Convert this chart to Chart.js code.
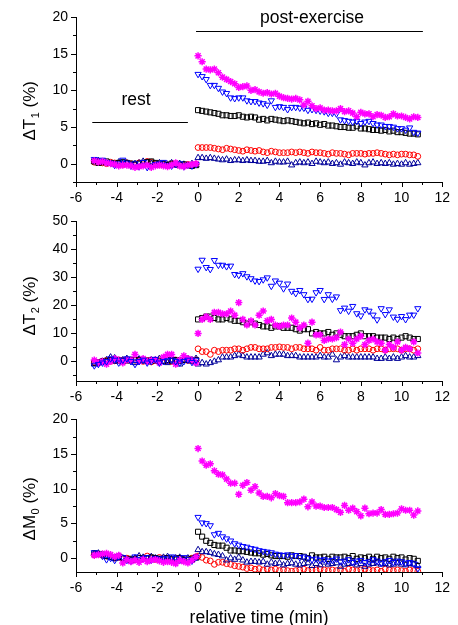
<!DOCTYPE html>
<html>
<head>
<meta charset="utf-8">
<script src="https://cdn.jsdelivr.net/npm/chart.js@4.4.1/dist/chart.umd.min.js"></script>
<style>
  body { margin: 0; background: #fff; }
  #wrap { position: relative; width: 458px; height: 625px; }
  #wrap canvas { position: absolute; left: 0; }
</style>
</head>
<body>
<div id="wrap">
  <canvas id="chart-t1" width="458" height="205" style="top:0px"></canvas>
  <canvas id="chart-t2" width="458" height="198" style="top:205px"></canvas>
  <canvas id="chart-m0" width="458" height="222" style="top:403px"></canvas>
</div>
<script>
// time axis (min): rest samples, then post-exercise samples
const timeRest = [-5.1,-4.9,-4.7,-4.5,-4.3,-4.1,-3.9,-3.7,-3.5,-3.3,-3.1,-2.9,-2.7,-2.5,-2.3,-2.1,-1.9,-1.7,-1.5,-1.3,-1.1,-0.9,-0.7,-0.5,-0.3,-0.1];
const timePost = [0,0.2,0.4,0.6,0.8,1,1.2,1.4,1.6,1.8,2,2.2,2.4,2.6,2.8,3,3.2,3.4,3.6,3.8,4,4.2,4.4,4.6,4.8,5,5.2,5.4,5.6,5.8,6,6.2,6.4,6.6,6.8,7,7.2,7.4,7.6,7.8,8,8.2,8.4,8.6,8.8,9,9.2,9.4,9.6,9.8,10,10.2,10.4,10.6,10.8];

// ΔT1 (%)
const t1Black = [0.3,0.1,0.2,0.3,0.1,0,0.1,0.2,0.1,0,-0.1,0,0.1,0.2,0.3,0.1,0,-0.1,-0.2,0,-0.1,-0.2,-0.1,-0.2,-0.3,-0.2,
  7.3,7.2,7.1,7.0,6.9,6.8,6.6,6.6,6.5,6.5,6.6,6.4,6.3,6.4,6.3,6.0,6.1,5.9,6.1,6.0,5.9,5.8,5.9,5.8,5.7,5.6,5.5,5.6,5.4,5.5,
  5.3,5.4,5.2,5.2,5.1,5.0,5.0,4.9,4.9,5.1,4.8,4.8,4.7,4.6,4.6,4.5,4.6,4.4,4.5,4.3,4.3,4.2,4.1,4.1,4.0];
const t1Red = [0.2,0.3,0.1,0,0.2,0.1,0,-0.1,0.1,0,-0.2,0.1,0,0.3,0.2,0,-0.1,0,-0.2,-0.1,0,-0.2,-0.3,-0.1,-0.2,-0.1,
  2.2,2.2,2.2,2.2,2.1,2.0,1.9,2.1,2.0,1.9,1.8,1.7,1.9,1.8,1.7,1.8,1.6,1.5,1.7,1.6,1.5,1.5,1.5,1.6,1.5,1.6,1.5,1.4,1.6,1.5,
  1.5,1.4,1.3,1.5,1.4,1.4,1.3,1.2,1.4,1.4,1.4,1.3,1.4,1.4,1.5,1.4,1.3,1.2,1.3,1.2,1.3,1.3,1.2,1.2,1.0];
const t1Navy = [0.3,0.4,0.2,0.1,0,-0.1,0.2,0,0.1,-0.2,0,0.1,0.3,0.2,0,-0.2,0.1,0,-0.1,0.1,-0.2,0,-0.1,-0.2,0,-0.2,
  0.8,0.8,0.7,0.8,0.7,0.6,0.5,0.6,0.4,0.5,0.5,0.4,0.5,0.4,0.4,0.3,0.3,0.4,0.1,0.3,0.2,0.2,0.3,-0.2,0.1,0.2,0.1,0.2,0.0,0.3,
  0.2,0.1,0.2,0.0,0.1,-0.1,0.2,0.1,0.0,0.2,0.1,-0.2,0.1,0.2,0.0,0.1,0.0,0.1,-0.1,0.0,-0.1,0.1,-0.1,0.0,0.1];
const t1Blue = [0.6,0.4,0.5,0.2,0.1,-0.2,0,0.5,0.1,-0.3,0,-0.4,0.2,-0.5,-0.3,-0.1,0,0.2,-0.2,-0.3,-0.1,0,-0.4,-0.2,-0.3,-0.1,
  12.2,11.9,11.5,10.7,10.7,10.3,9.8,9.6,9.0,8.9,9.0,9.0,8.6,8.5,8.5,8.3,8.2,8.0,8.6,7.7,7.8,7.7,7.4,7.7,7.7,7.6,7.6,7.3,7.4,7.3,
  7.2,7.1,6.9,6.9,6.8,6.0,5.9,5.8,5.7,5.8,5.5,5.7,5.8,5.5,5.3,5.3,5.1,5.1,5.0,4.8,4.8,4.6,4.9,4.3,4.2];
const t1Magenta = [0.4,0.2,0.3,0.1,0,-0.1,-0.3,-0.2,-0.2,-0.3,-0.5,-0.4,-0.3,-0.2,-0.5,-0.3,-0.2,-0.3,-0.4,-0.2,0.1,-0.3,-0.4,-0.2,-0.1,0.0,
  14.7,13.9,12.9,12.8,12.9,12.4,11.8,11.5,11.2,10.9,10.4,10.5,10.6,10.0,10.1,9.8,9.6,9.7,9.5,9.6,9.2,9.0,8.9,8.8,8.9,8.7,8.0,8.5,7.9,7.5,
  7.6,7.3,7.3,7.2,7.2,7.5,7.1,7.2,6.9,6.4,7.0,6.8,6.8,6.4,6.7,6.6,6.3,6.4,6.8,6.5,6.5,6.3,6.1,6.4,6.3];

// ΔT2 (%)
const t2Black = [-0.5,-0.3,0,0.2,0.5,0.3,0.5,0.2,0.3,0.5,0.4,0.5,0.3,0.2,0.5,0.3,0,0.2,0.5,0.3,0.5,0.2,0.5,0.6,0.3,0.5,
  15,15.5,16,16,15.5,15,15,15.5,15,14.5,14.5,14,13.5,14,13.5,13,12.5,12.5,12,12.5,12.5,12,12,12,11.5,11,11.5,11.5,10,10.5,
  10,10,10.5,9.5,10,9.5,9,9,9,9.5,10,9,9,9,8.5,8.5,8.5,8,8.5,8,8.5,9,8.5,8,8];
const t2Red = [-0.3,-0.5,0,0.3,0,0.2,0.5,0.3,0.6,0.3,0.5,0.2,0,0.3,-0.2,0.3,0.5,0.2,0.3,0,0.5,0.3,0.6,0.3,0.2,0.5,
  4.5,3.5,3.5,2.5,4,3.5,4,4,4,4.5,4.5,4,4.5,5,5,4.5,4.5,4.5,5,5,5.2,5,5,4.5,5,5,4.5,4.5,4.5,4,
  5,4,4,4.5,4.5,4.5,4,4,4.5,4,4.5,4.5,4.5,4,4.5,4.5,4,4.5,4.5,4.5,4,4.5,4.5,4,4.5];
const t2Navy = [-1,-0.5,0,0.5,1.5,1.2,0,0.5,1,0.5,-0.5,0.8,0.5,0,0.5,0.5,1,0,-0.5,0.5,0,-1,0.5,1,0.5,1,
  -1,-0.5,-1,-0.5,0,0.5,1.5,1.5,1.5,2,2.5,2,1.5,1.5,1.5,1.5,2.5,3,2,2.5,2.5,2.5,2,2,2,1.5,1.5,1.5,1.5,1.5,
  2,1.5,1.5,2.5,0.5,1.5,2,1.5,1.5,1.5,1.5,1.5,1.5,1.5,1,1,1.5,1,1.5,1,1.5,2,1.5,1.5,2];
const t2Blue = [-1.5,-1,-0.5,0,1,0.5,-0.5,0.5,1,0,-1,0,0.5,-0.5,0,0.8,-0.5,0,0.3,0.5,0,-0.5,0,0.5,-0.3,0.5,
  33.0,36.2,33.6,32.9,36.1,34.4,34.4,33.9,34.1,31.1,30.8,31.4,30.3,29.6,28.8,28.6,29.2,29.9,26.9,28.8,28.0,26.0,27.7,25.1,24.3,25.4,23.9,22.2,22.3,24.6,
  25.4,22.2,23.9,22.3,23.1,18.2,19.1,18.0,19.7,17.1,16.3,18.5,18.0,16.6,14.9,18.9,16.8,18.5,15.9,15.1,16.1,15.0,16.6,16.6,18.9];
const t2Magenta = [0.5,-0.5,0,-1,0,1,0.5,-0.5,0.5,0.5,2.5,0,1,0,0.5,0.5,-0.5,1.5,2.5,2.5,-1,0.5,2,1,0.5,-0.5,
  10,15,16,15,17.5,17.5,17,17,18,16.5,21,15,13,14.5,13,16.5,18,14.5,15,13,12.5,13,13,15.5,14,12,13,6.5,14,9.5,
  9.5,7.5,8,8,8.5,10.5,6,8,6.5,8,9,6,7.5,8,7,6.5,4,6,5,7,4,5,4.5,7,3];

// ΔM0 (%)
const m0Black = [0.7,0.6,0.5,0.3,0.2,0.1,0.2,0,-0.2,-0.1,-0.2,0,-0.1,0,0.1,0,-0.1,-0.2,0,-0.1,-0.2,0,-0.3,-0.2,-0.1,0.1,
  3.8,3.1,2.5,2.2,1.9,1.8,1.8,1.5,1.1,1.1,1.0,1.0,0.9,0.8,0.7,0.7,0.5,0.6,0.4,0.3,0.3,0.3,0.2,0.4,0.3,0.3,0.2,0.0,0.4,0.1,
  0.1,0.2,-0.1,0.2,0.1,0.1,0.2,0.0,0.3,-0.1,0.1,0.0,0.2,-0.1,0.2,0.0,0.1,-0.1,0.2,0.0,0.1,-0.2,0.0,-0.1,-0.4];
const m0Red = [0.5,0.6,0.4,0.3,0.2,0,0.1,-0.1,0,-0.3,-0.2,0,-0.1,0.3,0,-0.2,0.1,0,-0.2,-0.3,0,-0.1,-0.2,-0.3,0,0.2,
  0.3,0.1,-0.3,-0.4,-0.9,-0.6,-0.6,-0.8,-0.9,-1.1,-1.2,-1.3,-1.5,-1.4,-1.6,-1.5,-1.7,-1.6,-1.7,-1.6,-1.8,-1.7,-1.8,-1.9,-1.8,-1.7,-1.6,-1.8,-1.7,-1.7,
  -1.6,-1.7,-1.8,-1.7,-1.8,-1.7,-1.9,-1.6,-1.7,-1.8,-1.7,-1.6,-1.7,-1.8,-1.7,-1.9,-1.6,-1.7,-1.8,-1.7,-1.8,-1.9,-1.7,-1.8,-1.9];
const m0Navy = [0.6,0.7,0.5,0.2,0.1,-0.1,0.3,0,-0.2,-0.3,0,0.3,0.1,-0.1,0.2,0,-0.2,0.1,0.2,-0.1,0,0.1,-0.2,0,-0.3,0,
  1.2,0.9,0.9,0.8,0.6,0.5,0.3,-0.3,0.0,-0.2,0.1,-0.3,-0.6,-0.5,-0.5,-0.6,-0.5,-0.9,-0.6,-0.8,-0.7,-1.0,-0.8,-0.7,-0.9,-1.0,-0.8,-0.7,-1.1,-0.8,
  -1.0,-0.6,-0.9,-0.8,-0.7,-1.2,-0.9,-0.8,-0.7,-1.0,-0.8,-1.2,-0.9,-0.8,-0.7,-0.9,-0.8,-1.0,-0.9,-0.7,-0.9,-1.0,-0.8,-0.9,-1.1];
const m0Blue = [0.8,0.6,0.3,-0.2,0,-0.3,0.2,0.1,-0.3,-0.4,0.2,-0.2,0,0.1,-0.3,0,-0.2,0,-0.1,0.2,0,-0.3,0.1,-0.2,-0.4,0.1,
  5.9,5.1,5.0,4.7,3.4,3.6,3.1,2.8,2.5,2.1,1.9,1.7,1.6,1.4,1.3,1.1,1.0,0.9,0.8,0.6,0.5,0.4,0.5,0.3,0.4,0.1,0.2,0.0,-0.2,-0.1,
  -0.3,-0.2,-0.4,-0.3,-0.1,-0.5,-0.4,-0.2,-0.6,-0.4,-0.3,-0.6,-0.5,-0.2,-0.4,-0.7,-0.5,-0.3,-0.6,-0.4,-0.5,-0.7,-0.6,-0.8,-1.5];
const m0Magenta = [0.4,0.5,0.6,0.7,0.5,0.2,0.4,-0.7,-0.2,-0.5,-0.3,-0.6,-0.2,-0.5,-0.3,-0.2,-0.4,-0.6,-0.5,-0.6,-0.8,-0.3,-0.5,-0.7,-0.3,0.2,
  15.8,14.0,13.4,13.6,12.6,12.1,12.0,11.4,10.8,10.8,9.2,10.5,10.9,9.8,10.3,9.4,8.9,8.9,8.7,9.3,9.0,8.9,8.0,8.0,8.0,8.1,8.5,7.4,8.1,7.5,
  7.5,7.3,7.3,7.3,7.0,6.6,7.6,6.9,7.2,6.7,6.1,7.2,6.4,6.5,6.5,7.0,6.3,6.3,6.4,6.5,7.1,6.9,6.9,6.2,6.8];

const xTickLabels = ['-6','-4','-2','0','2','4','6','8','10','12'];

const FONT = '"Liberation Sans", Arial, sans-serif';
Chart.defaults.font.family = FONT;
Chart.defaults.color = '#000';

const times = timeRest.concat(timePost);

// marker look for each series
const MARKERS = {
  magenta: { color: '#ff00ff', pointStyle: 'star', radius: 3.6, width: 1.5, rotation: 0 },
  blue: { color: '#0000ff', pointStyle: 'triangle', radius: 3.6, width: 1, rotation: 180 },
  navy: { color: '#000099', pointStyle: 'triangle', radius: 3.6, width: 1, rotation: 0 },
  red: { color: '#ff0000', pointStyle: 'circle', radius: 2.9, width: 1, rotation: 0 },
  black: { color: '#000000', pointStyle: 'rect', radius: 3.6, width: 1, rotation: 0 }
};

function dataset(name, values) {
  const m = MARKERS[name];
  return {
    label: name,
    data: times.map((t, i) => ({ x: t, y: values[i] })),
    pointStyle: m.pointStyle,
    pointRadius: m.radius,
    pointHoverRadius: m.radius,
    pointRotation: m.rotation,
    borderColor: m.color,
    backgroundColor: 'rgba(0,0,0,0)',
    borderWidth: m.width,
    showLine: false
  };
}

// tick marks (major longer), rotated y title with subscript, text notes
const decor = {
  id: 'decor',
  afterDraw(chart, args, opts) {
    const ctx = chart.ctx;
    const xs = chart.scales.x, ys = chart.scales.y;
    ctx.save();
    ctx.strokeStyle = '#000';
    ctx.lineWidth = 1;
    ctx.beginPath();
    for (const t of xs.ticks) {
      const px = Math.round(xs.getPixelForValue(t.value)) + 0.5;
      const len = t.label !== '' ? 5 : 3;
      ctx.moveTo(px, xs.top);
      ctx.lineTo(px, xs.top + len);
    }
    for (const t of ys.ticks) {
      const r = t.value / opts.yStep;
      if (Math.abs(r - Math.round(r)) > 1e-6) continue;
      const py = Math.round(ys.getPixelForValue(t.value)) + 0.5;
      const len = t.label !== '' ? 5 : 3;
      ctx.moveTo(ys.right, py);
      ctx.lineTo(ys.right - len, py);
    }
    for (const l of (opts.lines || [])) {
      const py = Math.round(ys.getPixelForValue(l.y)) + 0.5;
      ctx.moveTo(xs.getPixelForValue(l.x1), py);
      ctx.lineTo(xs.getPixelForValue(l.x2), py);
    }
    ctx.stroke();

    ctx.fillStyle = '#000';
    ctx.textAlign = 'center';
    ctx.textBaseline = 'middle';
    ctx.font = '17.5px ' + FONT;
    for (const n of (opts.notes || [])) {
      ctx.fillText(n.text, xs.getPixelForValue(n.x), ys.getPixelForValue(n.y));
    }
    if (opts.xTitle) {
      ctx.fillText(opts.xTitle.text, (chart.chartArea.left + chart.chartArea.right) / 2, opts.xTitle.y);
    }

    const yt = opts.yTitle;
    if (yt) {
      const big = '17px ' + FONT, small = '11px ' + FONT;
      ctx.translate(yt.x, yt.y);
      ctx.rotate(-Math.PI / 2);
      ctx.textAlign = 'left';
      ctx.textBaseline = 'alphabetic';
      ctx.font = big;
      const w1 = ctx.measureText(yt.main).width;
      const w3 = ctx.measureText(yt.tail).width;
      ctx.font = small;
      const w2 = ctx.measureText(yt.sub).width;
      let cx = -(w1 + w2 + w3) / 2;
      ctx.font = big; ctx.fillText(yt.main, cx, 0); cx += w1 + 0.5;
      ctx.font = small; ctx.fillText(yt.sub, cx, 4); cx += w2;
      ctx.font = big; ctx.fillText(yt.tail, cx, 0);
    }
    ctx.restore();
  }
};

function makePanel(id, series, y, padTop, xHeight, decorOpts) {
  const canvas = document.getElementById(id);
  return new Chart(canvas.getContext('2d'), {
    type: 'scatter',
    data: { datasets: series },
    options: {
      responsive: false,
      animation: false,
      devicePixelRatio: 1,
      layout: { padding: { top: padTop, right: 15, left: 0, bottom: 0 } },
      plugins: { legend: { display: false }, tooltip: { enabled: false }, decor: decorOpts },
      scales: {
        x: {
          type: 'linear', min: -6, max: 12,
          grid: { drawOnChartArea: false, drawTicks: false },
          border: { display: true, color: '#000', width: 1 },
          ticks: {
            stepSize: 1, autoSkip: false, maxRotation: 0, padding: 8,
            font: { size: 14 },
            callback: v => (v % 2 === 0 ? xTickLabels[(v + 6) / 2] : '')
          },
          afterFit: s => { s.height = xHeight; }
        },
        y: {
          type: 'linear', min: y.min, max: y.max,
          grid: { drawOnChartArea: false, drawTicks: false },
          border: { display: true, color: '#000', width: 1 },
          ticks: {
            stepSize: y.step, autoSkip: false, includeBounds: false, padding: 8,
            font: { size: 14 },
            callback: v => (Math.abs(v % y.major) < 1e-6 ? String(v) : '')
          },
          afterFit: s => { s.width = 76; }
        }
      }
    },
    plugins: [decor]
  });
}

makePanel('chart-t1', [
  dataset('magenta', t1Magenta), dataset('blue', t1Blue), dataset('black', t1Black),
  dataset('red', t1Red), dataset('navy', t1Navy)
], { min: -2.5, max: 20, step: 2.5, major: 5 }, 17, 23, {
  yStep: 2.5,
  yTitle: { main: 'ΔT', sub: '1', tail: ' (%)', x: 35, y: 111 },
  lines: [{ x1: -5.2, x2: -0.5, y: 5.7 }, { x1: -0.1, x2: 11.05, y: 18.1 }],
  notes: [{ text: 'rest', x: -3.05, y: 8.7 }, { text: 'post-exercise', x: 5.6, y: 19.9 }]
});

makePanel('chart-t2', [
  dataset('blue', t2Blue), dataset('magenta', t2Magenta), dataset('black', t2Black),
  dataset('red', t2Red), dataset('navy', t2Navy)
], { min: -7, max: 50, step: 5, major: 10 }, 10, 22, {
  yStep: 5,
  yTitle: { main: 'ΔT', sub: '2', tail: ' (%)', x: 35, y: 101 }
});

makePanel('chart-m0', [
  dataset('magenta', m0Magenta), dataset('blue', m0Blue), dataset('black', m0Black),
  dataset('navy', m0Navy), dataset('red', m0Red)
], { min: -2, max: 20, step: 2.5, major: 5 }, 9, 53, {
  yStep: 2.5,
  yTitle: { main: 'ΔM', sub: '0', tail: ' (%)', x: 35, y: 106 },
  xTitle: { text: 'relative time (min)', y: 215 }
});
</script>
</body>
</html>
